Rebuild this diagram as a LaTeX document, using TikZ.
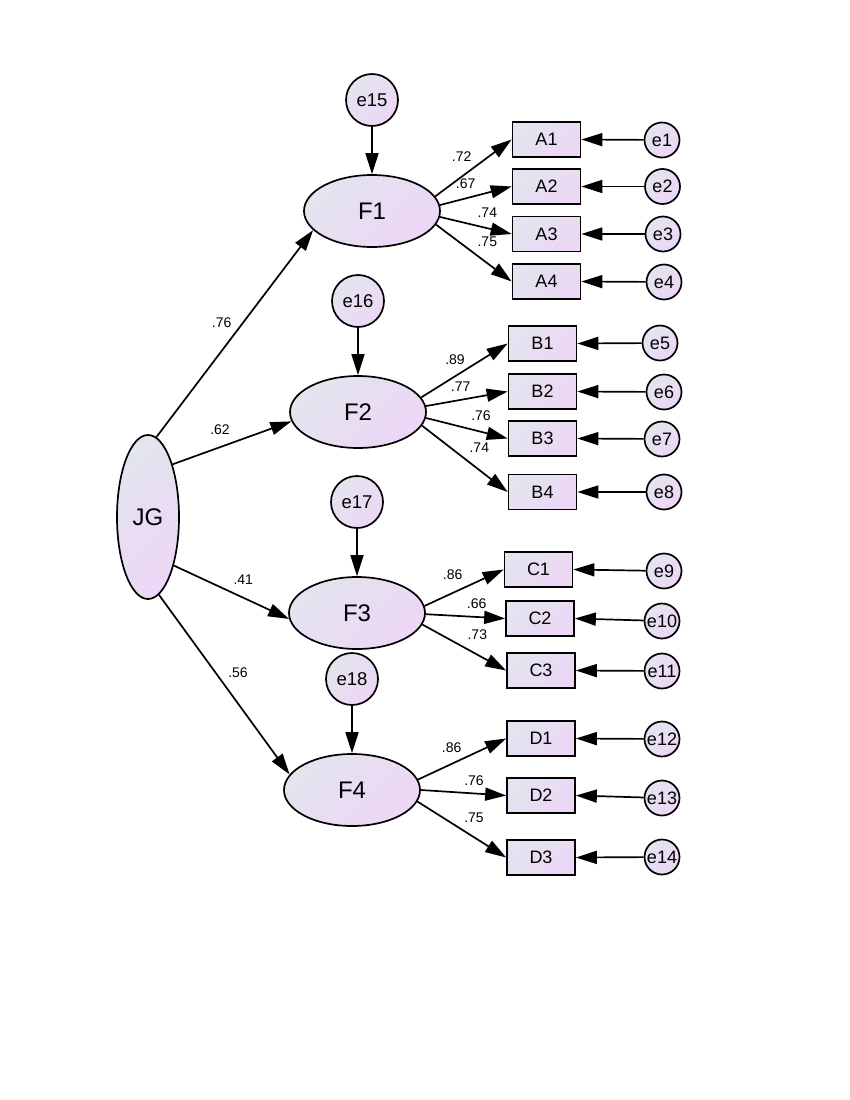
\documentclass[tikz,border=0pt]{standalone}
\usepackage{fontspec}
\setmainfont{Liberation Sans}
\usetikzlibrary{arrows.meta,shapes.geometric}
\definecolor{gA}{RGB}{226,229,238}
\definecolor{gB}{RGB}{237,214,246}
\begin{document}
\begin{tikzpicture}[x=1pt,y=-1pt,
  grad/.style={draw=black,line width=1.7pt,top color=gA,bottom color=gB,shading angle=45,inner sep=0pt},
  lat/.style={grad,ellipse,minimum width=136pt,minimum height=72pt,font=\fontsize{24}{26}\selectfont},
  err/.style={grad,circle,minimum size=52pt,font=\fontsize{18.5}{20}\selectfont},
  serr/.style={grad,circle,minimum size=35pt,font=\fontsize{18}{20}\selectfont},
  obs/.style={grad,rectangle,minimum width=68pt,minimum height=35pt,font=\fontsize{18}{20}\selectfont},
  coef/.style={inner sep=0pt,font=\fontsize{14}{16}\selectfont},
  arr/.style={line width=1.7pt,-{Triangle[length=21pt,width=13pt]}}]
\useasboundingbox (0,0) rectangle (850,1100);
% latent variables
\node[lat,minimum width=62pt,minimum height=164pt] (JG) at (148,517) {JG};
\node[lat] (F1) at (372,211) {F1};
\node[lat] (F2) at (358,412) {F2};
\node[lat] (F3) at (357,613) {F3};
\node[lat] (F4) at (352,790) {F4};
% disturbances
\node[err] (e15) at (372,100) {e15};
\node[err] (e16) at (358,301) {e16};
\node[err] (e17) at (357,502) {e17};
\node[err] (e18) at (352,679) {e18};
% observed
\node[obs] (A1) at (546.5,139.5) {A1};
\node[obs] (A2) at (546.5,186.5) {A2};
\node[obs] (A3) at (546.5,234) {A3};
\node[obs] (A4) at (546.5,281.5) {A4};
\node[obs] (B1) at (542.5,343.5) {B1};
\node[obs] (B2) at (542.5,391.5) {B2};
\node[obs] (B3) at (542.5,438.5) {B3};
\node[obs] (B4) at (542.5,492) {B4};
\node[obs] (C1) at (538.5,569.5) {C1};
\node[obs] (C2) at (540,618.5) {C2};
\node[obs] (C3) at (541,670.5) {C3};
\node[obs] (D1) at (541,738.5) {D1};
\node[obs] (D2) at (541,795.5) {D2};
\node[obs] (D3) at (541,857.5) {D3};
% errors
\node[serr] (e1) at (662,140) {e1};
\node[serr] (e2) at (662.5,186.5) {e2};
\node[serr] (e3) at (663,234) {e3};
\node[serr] (e4) at (664,282) {e4};
\node[serr] (e5) at (660,343) {e5};
\node[serr] (e6) at (664,392) {e6};
\node[serr] (e7) at (662,439) {e7};
\node[serr] (e8) at (664,492) {e8};
\node[serr] (e9) at (664,571) {e9};
\node[serr] (e10) at (662,621) {e10};
\node[serr] (e11) at (662,671) {e11};
\node[serr] (e12) at (662,739) {e12};
\node[serr] (e13) at (662,798) {e13};
\node[serr] (e14) at (662,857) {e14};
% structural paths
\draw[arr] (JG.84) -- (F1.198);
\draw[arr] (JG.65) -- (F2.188);
\draw[arr] (JG.-62) -- (F3.185);
\draw[arr] (JG.-82) -- (F4.166);
% disturbances
\draw[arr] (e15) -- (F1);
\draw[arr] (e16) -- (F2);
\draw[arr] (e17) -- (F3);
\draw[arr] (e18) -- (F4);
% loadings
\draw[arr] (F1.13) -- (A1.west);
\draw[arr] (F1.5) -- (A2.west);
\draw[arr] (F1.-5) -- (A3.west);
\draw[arr] (F1.-12) -- (A4.west);
\draw[arr] (F2.13) -- (B1.west);
\draw[arr] (F2.5) -- (B2.west);
\draw[arr] (F2.-5) -- (B3.west);
\draw[arr] (F2.-12) -- (B4.west);
\draw[arr] (F3.6) -- (C1.west);
\draw[arr] (F3.-1) -- (C2.west);
\draw[arr] (F3.-10) -- (C3.west);
\draw[arr] (F4.9) -- (D1.west);
\draw[arr] (F4.0) -- (D2.west);
\draw[arr] (F4.-10) -- (D3.west);
% measurement errors
\foreach \e/\o in {e1/A1,e2/A2,e3/A3,e4/A4,e5/B1,e6/B2,e7/B3,e8/B4,e9/C1,e10/C2,e11/C3,e12/D1,e13/D2,e14/D3}
  \draw[arr] (\e) -- (\o.east);
% coefficients
\node[coef] (l1) at (221.7,323) {.76};
\node[coef] (l2) at (220,430) {.62};
\node[coef] (l3) at (243.3,580) {.41};
\node[coef] (l4) at (238,673) {.56};
\node[coef] (la1) at (461.7,157) {.72};
\node[coef] (la2) at (465.7,184) {.67};
\node[coef] (la3) at (487.3,213) {.74};
\node[coef] (la4) at (487.3,242) {.75};
\node[coef] (lb1) at (455,360) {.89};
\node[coef] (lb2) at (460.7,387) {.77};
\node[coef] (lb3) at (481,416) {.76};
\node[coef] (lb4) at (479.3,448) {.74};
\node[coef] (lc1) at (452.7,575) {.86};
\node[coef] (lc2) at (476.7,604) {.66};
\node[coef] (lc3) at (477.3,635) {.73};
\node[coef] (ld1) at (451.7,748) {.86};
\node[coef] (ld2) at (474,781) {.76};
\node[coef] (ld3) at (474,817.5) {.75};
\end{tikzpicture}
\end{document}
